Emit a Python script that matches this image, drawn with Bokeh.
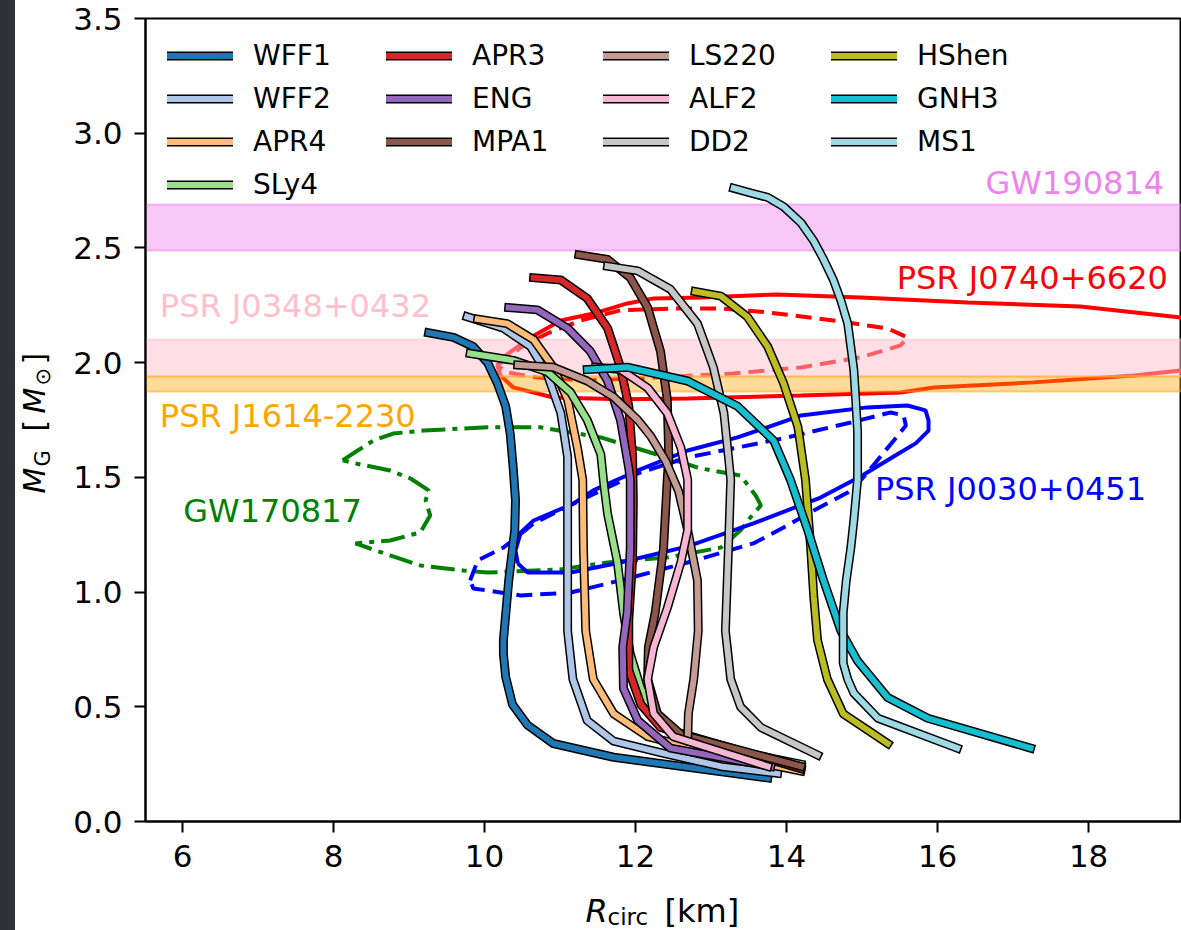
import math

from bokeh.plotting import figure
from bokeh.models import (Label, Legend, LegendItem, FixedTicker, NumeralTickFormatter,
                          Range1d)
from bokeh.layouts import column, row
from bokeh.embed import file_html
from bokeh.resources import INLINE

FONT = "DejaVu Sans"

# ---------------------------------------------------------------------------
# Mass-radius relations: circumferential radius [km] and gravitational mass [Msun]
# (ordered from the low-mass end up to the maximum mass)
# ---------------------------------------------------------------------------
r_wff1 = [13.75, 11.71, 10.91, 10.57, 10.37, 10.28, 10.25, 10.25, 10.32, 10.40, 10.41, 10.38, 10.34,
          10.28, 10.17, 10.04, 9.85, 9.59, 9.26]
m_wff1 = [0.19, 0.28, 0.34, 0.42, 0.51, 0.63, 0.73, 0.79, 1.05, 1.27, 1.40, 1.54, 1.69,
          1.81, 1.91, 2.00, 2.07, 2.11, 2.13]

r_wff2 = [13.88, 13.13, 12.33, 11.71, 11.36, 11.17, 11.10, 11.10, 11.10, 11.10, 11.01, 10.83, 10.61, 10.25, 9.77]
m_wff2 = [0.21, 0.24, 0.30, 0.35, 0.44, 0.62, 0.83, 1.19, 1.49, 1.59, 1.78, 1.95, 2.07, 2.15, 2.20]

r_apr4 = [14.19, 13.13, 12.16, 11.71, 11.44, 11.34, 11.31, 11.30, 11.23, 11.10, 10.91, 10.65, 10.30, 9.91]
m_apr4 = [0.22, 0.29, 0.37, 0.47, 0.62, 0.83, 1.19, 1.49, 1.63, 1.84, 1.98, 2.10, 2.17, 2.19]

r_sly4 = [14.19, 12.69, 12.24, 12.07, 11.93, 11.84, 11.76, 11.63, 11.58, 11.54, 11.36, 11.14, 10.83, 10.38, 9.81]
m_sly4 = [0.25, 0.35, 0.47, 0.58, 0.73, 0.91, 1.13, 1.34, 1.47, 1.60, 1.75, 1.87, 1.96, 2.01, 2.04]

r_apr3 = [14.19, 12.33, 12.07, 11.91, 11.91, 11.96, 11.97, 11.96, 11.91, 11.80, 11.63, 11.36, 11.01, 10.65]
m_apr3 = [0.23, 0.41, 0.51, 0.66, 0.88, 1.14, 1.40, 1.59, 1.81, 1.98, 2.15, 2.28, 2.36, 2.37]

r_eng = [13.79, 12.46, 12.03, 11.84, 11.83, 11.89, 11.93, 11.93, 11.91, 11.80, 11.63, 11.40, 11.10, 10.70, 10.32]
m_eng = [0.24, 0.32, 0.44, 0.58, 0.76, 0.91, 1.19, 1.49, 1.54, 1.75, 1.92, 2.05, 2.15, 2.23, 2.24]

r_mpa1 = [14.19, 12.60, 12.29, 12.16, 12.17, 12.26, 12.37, 12.42, 12.44, 12.42, 12.33, 12.16, 11.93, 11.63, 11.25]
m_mpa1 = [0.24, 0.38, 0.47, 0.62, 0.76, 0.91, 1.19, 1.49, 1.59, 1.84, 2.05, 2.24, 2.37, 2.45, 2.47]

r_ls220 = [12.69, 12.70, 12.77, 12.83, 12.82, 12.69, 12.57, 12.40, 12.20, 12.03, 11.71, 11.36, 10.91, 10.44]
m_ls220 = [0.36, 0.47, 0.62, 0.83, 1.05, 1.27, 1.44, 1.57, 1.68, 1.75, 1.85, 1.92, 1.98, 1.99]

r_alf2 = [13.75, 12.50, 12.24, 12.16, 12.24, 12.42, 12.60, 12.69, 12.69, 12.60, 12.42, 12.16, 11.80, 11.47]
m_alf2 = [0.24, 0.37, 0.47, 0.62, 0.76, 0.93, 1.13, 1.27, 1.49, 1.63, 1.78, 1.89, 1.97, 1.98]

r_dd2 = [14.41, 13.66, 13.39, 13.26, 13.19, 13.23, 13.26, 13.23, 13.17, 13.03, 12.82, 12.46, 12.03, 11.63]
m_dd2 = [0.29, 0.41, 0.50, 0.62, 0.83, 1.19, 1.49, 1.59, 1.78, 1.98, 2.17, 2.32, 2.40, 2.42]

r_hshen = [15.34, 14.75, 14.54, 14.41, 14.36, 14.32, 14.25, 14.15, 13.96, 13.75, 13.48, 13.13, 12.79]
m_hshen = [0.34, 0.47, 0.62, 0.79, 0.98, 1.19, 1.49, 1.72, 1.91, 2.07, 2.20, 2.29, 2.31]

r_gnh3 = [17.23, 15.87, 15.34, 14.94, 14.72, 14.49, 14.28, 14.05, 13.83, 13.35, 12.69, 11.89, 11.36]
m_gnh3 = [0.32, 0.45, 0.54, 0.70, 0.83, 1.05, 1.27, 1.49, 1.66, 1.81, 1.92, 1.98, 1.97]

r_ms1 = [16.26, 15.21, 14.89, 14.81, 14.75, 14.75, 14.79, 14.85, 14.89, 14.94, 14.94, 14.91, 14.89,
         14.85, 14.81, 14.72, 14.62, 14.49, 14.36, 14.19, 13.96, 13.75, 13.52, 13.30]
m_ms1 = [0.32, 0.45, 0.56, 0.62, 0.69, 0.91, 1.05, 1.19, 1.31, 1.49, 1.70, 1.87, 1.97,
         2.07, 2.17, 2.27, 2.36, 2.45, 2.53, 2.61, 2.68, 2.72, 2.74, 2.76]

eos_names = ["WFF1", "WFF2", "APR4", "SLy4", "APR3", "ENG", "MPA1",
             "LS220", "ALF2", "DD2", "HShen", "GNH3", "MS1"]
eos_colors = ["#1f77b4", "#aec7e8", "#ffbb78", "#98df8a", "#d62728", "#9467bd", "#8c564b",
              "#c49c94", "#f7b6d2", "#c7c7c7", "#bcbd22", "#17becf", "#9edae5"]
eos_r = [r_wff1, r_wff2, r_apr4, r_sly4, r_apr3, r_eng, r_mpa1,
         r_ls220, r_alf2, r_dd2, r_hshen, r_gnh3, r_ms1]
eos_m = [m_wff1, m_wff2, m_apr4, m_sly4, m_apr3, m_eng, m_mpa1,
         m_ls220, m_alf2, m_dd2, m_hshen, m_gnh3, m_ms1]

# ---------------------------------------------------------------------------
# Observational constraints
# ---------------------------------------------------------------------------
# GW170817 credible region
r_gw170817 = [8.12, 8.32, 8.53, 8.79, 9.19, 10.04, 10.74, 11.54, 12.33, 12.86, 13.39, 13.59, 13.66,
              13.52, 13.39, 13.13, 12.42, 11.63, 11.01, 10.04, 9.72, 9.15, 8.75, 8.29, 8.75, 9.15,
              9.28, 9.22, 9.26, 9.02, 8.75, 8.36, 8.12]
m_gw170817 = [1.574, 1.617, 1.661, 1.691, 1.704, 1.718, 1.718, 1.674, 1.595, 1.539, 1.508, 1.421, 1.378,
              1.325, 1.269, 1.194, 1.151, 1.129, 1.099, 1.085, 1.094, 1.116, 1.160, 1.212, 1.225, 1.260,
              1.334, 1.399, 1.443, 1.495, 1.530, 1.556, 1.574]

# PSR J0740+6620 NICER regions (solid and dashed analyses)
r_j0740_a = [20.01, 19.22, 18.60, 17.27, 15.95, 15.51, 14.19, 12.69, 11.80, 10.91, 10.38, 10.21, 10.17,
             10.28, 10.61, 11.01, 11.44, 11.89, 12.24, 12.86, 13.88, 14.98, 16.40, 17.89, 19.22, 20.01]
m_j0740_a = [1.983, 1.966, 1.944, 1.914, 1.892, 1.870, 1.857, 1.844, 1.840, 1.848, 1.892, 1.944, 1.988,
             2.031, 2.110, 2.184, 2.214, 2.258, 2.280, 2.284, 2.297, 2.284, 2.262, 2.245, 2.197, 2.171]
r_j0740_b = [10.17, 10.48, 10.83, 11.27, 11.80, 12.50, 13.13, 13.75, 14.62, 15.34, 15.60, 15.51, 14.98,
             14.19, 13.30, 12.24, 11.36, 10.70, 10.30, 10.17]
m_j0740_b = [1.988, 2.066, 2.127, 2.184, 2.228, 2.236, 2.236, 2.219, 2.184, 2.149, 2.110, 2.075, 2.023,
             1.979, 1.953, 1.935, 1.922, 1.935, 1.957, 1.988]

# PSR J0030+0451 NICER regions (solid and dashed analyses)
r_j0030_a = [10.44, 10.57, 11.14, 11.80, 12.69, 13.56, 14.45, 14.98, 15.44, 15.71, 15.88, 15.88, 15.84,
             15.60, 15.07, 14.19, 14.01, 13.35, 12.69, 12.03, 11.44, 11.18, 10.65, 10.48, 10.41, 10.44]
m_j0030_a = [1.125, 1.085, 1.085, 1.129, 1.199, 1.299, 1.412, 1.504, 1.595, 1.648, 1.704, 1.748, 1.792,
             1.813, 1.805, 1.770, 1.748, 1.674, 1.617, 1.530, 1.443, 1.386, 1.312, 1.260, 1.181, 1.125]
r_j0030_b = [9.81, 9.91, 10.25, 10.65, 11.18, 11.63, 12.03, 12.69, 13.35, 14.01, 14.85, 15.38, 15.55,
             15.58, 15.42, 15.18, 14.98, 14.81, 14.36, 14.01, 13.56, 12.69, 11.80, 11.14, 10.48, 9.85, 9.81]
m_j0030_b = [1.051, 1.138, 1.194, 1.299, 1.386, 1.456, 1.517, 1.587, 1.630, 1.674, 1.739, 1.783, 1.770,
             1.726, 1.661, 1.565, 1.486, 1.434, 1.356, 1.290, 1.212, 1.129, 1.051, 0.998, 0.985, 1.016, 1.051]

# Mass bands [Msun]
band_gw190814 = [2.49, 2.69]
band_j0348 = [1.94, 2.10]
band_j1614 = [1.875, 1.94]

x_ticks = [6, 8, 10, 12, 14, 16, 18]
y_ticks = [0.0, 0.5, 1.0, 1.5, 2.0, 2.5, 3.0, 3.5]

# ---------------------------------------------------------------------------
# main panel
# ---------------------------------------------------------------------------
p = figure(width=1111, height=885,
           x_range=Range1d(5.51, 19.23), y_range=Range1d(0, 3.5),
           output_backend="svg", toolbar_location=None,
           min_border_left=75, min_border_right=0, min_border_top=18, min_border_bottom=64)
p.frame_align = False
p.background_fill_color = "white"
p.border_fill_color = "white"
p.outline_line_color = "black"
p.outline_line_width = 2
p.xgrid.grid_line_color = None
p.ygrid.grid_line_color = None

for ax in (p.xaxis[0], p.yaxis[0]):
    ax.axis_line_width = 2
    ax.major_tick_line_width = 2
    ax.major_tick_in = 0
    ax.major_tick_out = 11
    ax.minor_tick_in = 0
    ax.minor_tick_out = 0
    ax.major_label_text_font = FONT
    ax.major_label_text_font_size = "31px"
    ax.major_label_text_color = "black"
    ax.major_label_standoff = 12

p.xaxis.ticker = FixedTicker(ticks=x_ticks)
p.yaxis.ticker = FixedTicker(ticks=y_ticks)
p.xaxis.formatter = NumeralTickFormatter(format="0")
p.yaxis.formatter = NumeralTickFormatter(format="0.0")

# contours of the observational constraints
p.line(r_gw170817, m_gw170817, line_color="green", line_width=4, line_dash="24 7 5 7")
p.line(r_j0740_a, m_j0740_a, line_color="red", line_width=4)
p.line(r_j0740_b, m_j0740_b, line_color="red", line_width=4, line_dash="16 8")
p.line(r_j0030_a, m_j0030_a, line_color="blue", line_width=4)
p.line(r_j0030_b, m_j0030_b, line_color="blue", line_width=4, line_dash="16 8")

# horizontal mass bands
p.hstrip(y0=[band_gw190814[0]], y1=[band_gw190814[1]], fill_color="violet", fill_alpha=0.45,
         line_color="violet", line_alpha=0.5, line_width=2)
p.hstrip(y0=[band_j0348[0]], y1=[band_j0348[1]], fill_color="pink", fill_alpha=0.5,
         line_color="pink", line_alpha=0.5, line_width=2)
p.hstrip(y0=[band_j1614[0]], y1=[band_j1614[1]], fill_color="orange", fill_alpha=0.4,
         line_color="orange", line_alpha=0.5, line_width=2)

# EOS curves with a black outline
items = []
for name, color, r, m in zip(eos_names, eos_colors, eos_r, eos_m):
    edge = p.line(r, m, line_color="black", line_width=9, line_cap="square", line_join="round")
    core = p.line(r, m, line_color=color, line_width=6, line_cap="square", line_join="round")
    items.append(LegendItem(label=name, renderers=[edge, core]))

# legend laid out in four columns
columns = [[0, 1, 2, 3], [4, 5, 6], [7, 8, 9], [10, 11, 12]]
col_x = [22, 241, 458, 686]
row_h, row_gap = 33, 10
top_y = 782
for idxs, cx in zip(columns, col_x):
    n = len(idxs)
    h = n * row_h + (n - 1) * row_gap
    leg = Legend(items=[items[i] for i in idxs], location=(cx, top_y - h),
                 label_text_font=FONT, label_text_font_size="28px", label_text_color="black",
                 glyph_width=66, glyph_height=row_h, label_height=row_h,
                 spacing=row_gap, padding=0, margin=0, label_standoff=20,
                 border_line_color=None, background_fill_alpha=0)
    p.add_layout(leg)

# annotations of the constraints
notes = [
    ("GW190814", 19.0, 2.781, "right", "violet"),
    ("PSR J0740+6620", 19.05, 2.371, "right", "red"),
    ("PSR J0348+0432", 5.70, 2.249, "left", "pink"),
    ("PSR J1614-2230", 5.70, 1.767, "left", "orange"),
    ("GW170817", 6.01, 1.354, "left", "green"),
    ("PSR J0030+0451", 15.17, 1.450, "left", "blue"),
]
for txt, x, y, align, col in notes:
    p.add_layout(Label(x=x, y=y, text=txt, text_align=align, text_baseline="alphabetic",
                       text_color=col, text_font=FONT, text_font_size="32px"))


# ---------------------------------------------------------------------------
# axis titles, drawn in narrow strips beside the main panel
# ---------------------------------------------------------------------------
def strip(w, h):
    s = figure(width=w, height=h, x_range=Range1d(0, w), y_range=Range1d(0, h),
               x_axis_type=None, y_axis_type=None, output_backend="svg",
               toolbar_location=None, min_border=0, min_border_left=0, min_border_right=0,
               min_border_top=0, min_border_bottom=0)
    s.frame_align = False
    s.outline_line_color = None
    s.background_fill_color = "white"
    s.border_fill_color = "white"
    return s


def put(s, text, x, y, size, style="normal", angle=0.0):
    s.add_layout(Label(x=x, y=y, x_units="screen", y_units="screen", text=text,
                       angle=angle, text_align="left", text_baseline="alphabetic",
                       text_font=FONT, text_font_size=size, text_font_style=style,
                       text_color="black"))


# M_G [M_sun], reading upwards
ylab = strip(55, 885)
up = math.pi / 2
put(ylab, "M", 19, 392, "30px", "italic", up)
put(ylab, "G", 27, 419, "21px", "normal", up)
put(ylab, "[", 19, 454, "30px", "normal", up)
put(ylab, "M", 19, 472, "30px", "italic", up)
put(ylab, "\u2299", 27, 500, "21px", "normal", up)
put(ylab, "]", 19, 521, "30px", "normal", up)

# R_circ [km]
xlab = strip(1166, 45)
put(xlab, "R", 570, 20, "32px", "italic")
put(xlab, "circ", 592, 14, "23px")
put(xlab, "[km]", 649, 20, "32px")

inner = column(row(ylab, p, spacing=0), xlab, spacing=0,
               styles={"background-color": "white"})
inner.margin = (0, 0, 0, 15)
page = column(inner, styles={"background-color": "#2e3238"})

open("out.html", "w").write(file_html(page, INLINE))
